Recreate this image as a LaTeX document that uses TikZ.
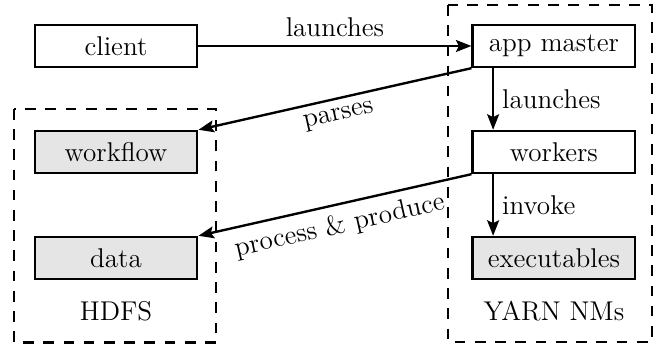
\documentclass[tikz,border=0pt]{standalone}
\usepackage{xcolor}
\usepackage{tikz}
\usetikzlibrary{arrows.meta}

\begin{document}
\begin{tikzpicture}[node distance=1.565cm, >={Stealth[length=6.5pt,width=5pt,inset=1.2pt]},
    every node/.style={font=\fontsize{11.4}{13}\selectfont},
    box/.style={draw, line width=1pt, minimum width=2.4cm, minimum height=0.62cm},
    store/.style={box, fill=gray!20},
    group/.style={draw, line width=1pt, dash pattern=on 4.5pt off 4pt},
    flow/.style={->, line width=1pt}]
    \useasboundingbox (-1.713,0.679) rectangle (7.987,-4.414);
    \node[box] (client) {client};
    \node[box] (master) [right of=client, xshift=4.9cm] {app master};
    \node[box] (workers) [below of=master] {workers};
    \node[store] (exec) [below of=workers] {executables};
    \node[store] (workflow) [below of=client] {workflow};
    \node[store] (data) [below of=workflow] {data};
    \node (hdfs) [below of=data, yshift=0.78cm] {HDFS};
    \node (yarn) [below of=exec, yshift=0.78cm] {YARN NMs};
    \draw[group] ([shift={(-0.29,0.31)}]workflow.north west) rectangle ([shift={(0.26,-0.92)}]data.south east);
    \draw[group] ([shift={(-0.35,0.28)}]master.north west) rectangle ([shift={(0.23,-0.91)}]exec.south east);
    \draw[flow] (client) -- (master) node[midway, above] {launches};
    \draw[flow] ([xshift=0.32cm]master.south west) -- ([xshift=0.32cm]workers.north west) node[midway, right] {launches};
    \draw[flow] ([xshift=0.32cm]workers.south west) -- ([xshift=0.32cm]exec.north west) node[midway, right] {invoke};
    \draw[flow] (master.south west) -- (workflow.north east) node[midway, sloped, below] {parses};
    \draw[flow] (workers.south west) -- (data.north east) node[midway, sloped, below] {process \& produce};
\end{tikzpicture}
\end{document}
